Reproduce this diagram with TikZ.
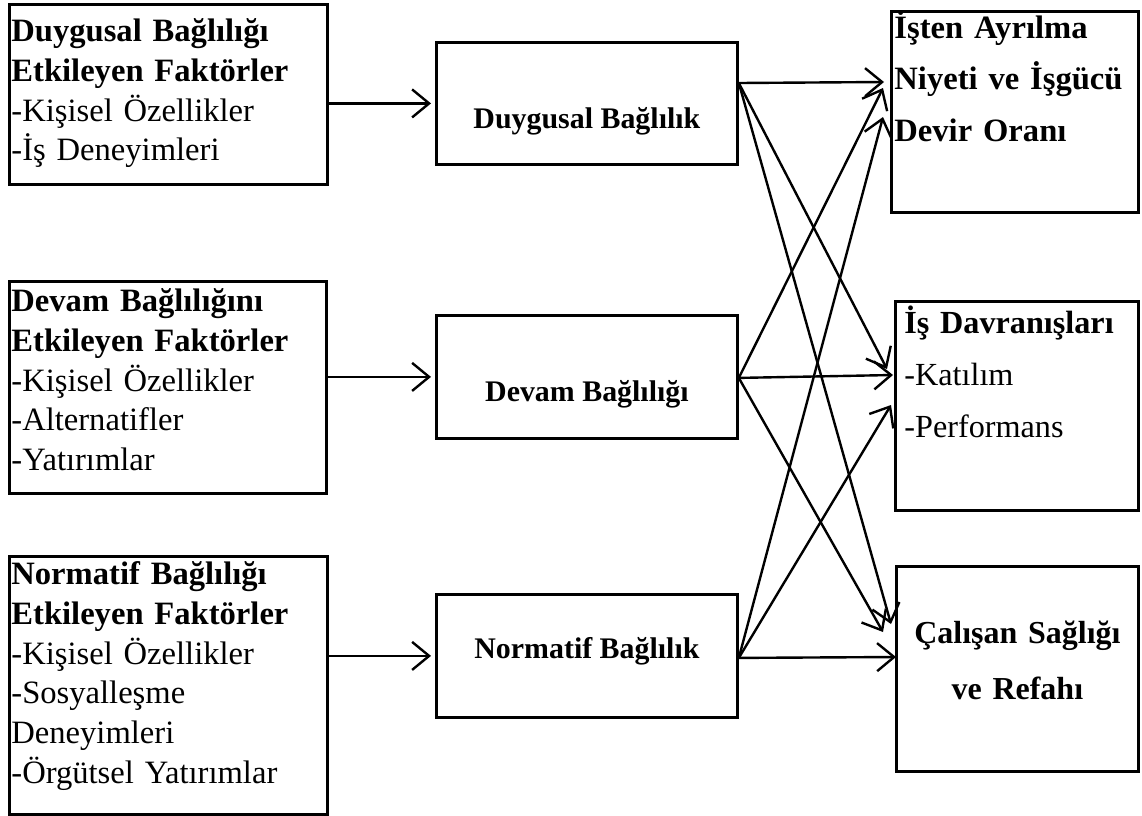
\documentclass[tikz,border=0pt]{standalone}
\usepackage{fontspec}
\setmainfont{Liberation Serif}
\usetikzlibrary{arrows.meta,calc}
\begin{document}
\begin{tikzpicture}[x=1pt,y=-1pt,
  box/.style={draw,line width=2.8pt,anchor=north west,inner ysep=0pt,font=\fontsize{32.6}{39.8}\selectfont},
  leftbox/.style={box,align=left,inner xsep=2pt,text width=314pt},
  midbox/.style={box,align=center,font=\fontsize{29.9}{36}\selectfont\bfseries,minimum width=301pt},
  outbox/.style={box,font=\fontsize{32.2}{52}\selectfont},
  arr/.style={-{Straight Barb[length=17pt,width=28pt]},line width=2.4pt}]
\useasboundingbox (0,0) rectangle (1142,815);
% factor boxes
\node[leftbox,text height=37pt,text depth=143pt] (fDuy) at (8,3) {\textbf{Duygusal Bağlılığı}\\\textbf{Etkileyen Faktörler}\\-Kişisel Özellikler\\-İş Deneyimleri};
\node[leftbox,text height=30pt,text depth=182pt,text width=313pt] (fDev) at (8,280) {\textbf{Devam Bağlılığını}\\\textbf{Etkileyen Faktörler}\\-Kişisel Özellikler\\-Alternatifler\\-Yatırımlar};
\node[leftbox,text height=28pt,text depth=230pt] (fNorm) at (8,555) {\textbf{Normatif Bağlılığı}\\\textbf{Etkileyen Faktörler}\\-Kişisel Özellikler\\-Sosyalleşme\\Deneyimleri\\-Örgütsel Yatırımlar};
% commitment boxes
\node[midbox,text height=86pt,text depth=36pt] (dBag) at (435,41) {Duygusal Bağlılık};
\node[midbox,text height=86pt,text depth=37pt] (devBag) at (435,314) {Devam Bağlılığı};
\node[midbox,text height=64pt,text depth=59pt] (normBag) at (435,593) {Normatif Bağlılık};
% outcome boxes
\node[outbox,align=left,inner xsep=3pt,text width=241pt,text height=27pt,text depth=174pt,font=\fontsize{32.6}{51.5}\selectfont] (isten) at (890,10) {\textbf{İşten Ayrılma}\\\textbf{Niyeti ve İşgücü}\\\textbf{Devir Oranı}};
\node[outbox,align=left,inner xsep=9pt,text width=225pt,text height=32pt,text depth=177pt] (isDav) at (894,300) {\textbf{İş Davranışları}\\-Katılım\\-Performans};
\node[outbox,align=center,inner xsep=0pt,text width=242pt,text height=77pt,text depth=128pt,font=\fontsize{32}{56}\selectfont\bfseries] (saglik) at (895,565) {Çalışan Sağlığı\\ve Refahı};
% arrows
\draw[arr] (fDuy.east |- dBag.west) -- ($(dBag.west)+(-4,0)$);
\draw[arr] (fDev.east |- devBag.west) -- ($(devBag.west)+(-4,0)$);
\draw[arr] (fNorm.east |- normBag.west) -- ($(normBag.west)+(-4,0)$);
\coordinate (dOut) at ($(dBag.north east)+(0,42)$);
\coordinate (devOut) at ($(devBag.east)+(0,1)$);
\coordinate (normOut) at ($(normBag.east)+(0,2)$);
\draw[arr] (dOut) -- ($(isten.north west)+(-6,72)$);
\draw[arr] (dOut) -- ($(isDav.north west)+(-7,69)$);
\draw[arr] (dOut) -- ($(saglik.north west)+(-4,59)$);
\draw[arr] (devOut) -- ($(isten.north west)+(-7,78)$);
\draw[arr] (devOut) -- ($(isDav.north west)+(-1,75)$);
\draw[arr] (devOut) -- ($(saglik.north west)+(-12,67)$);
\draw[arr] (normOut) -- ($(isten.north west)+(-7,107)$);
\draw[arr] (normOut) -- ($(isDav.north west)+(-3,105)$);
\draw[arr] (normOut) -- ($(saglik.north west)+(1,92)$);
\end{tikzpicture}
\end{document}
